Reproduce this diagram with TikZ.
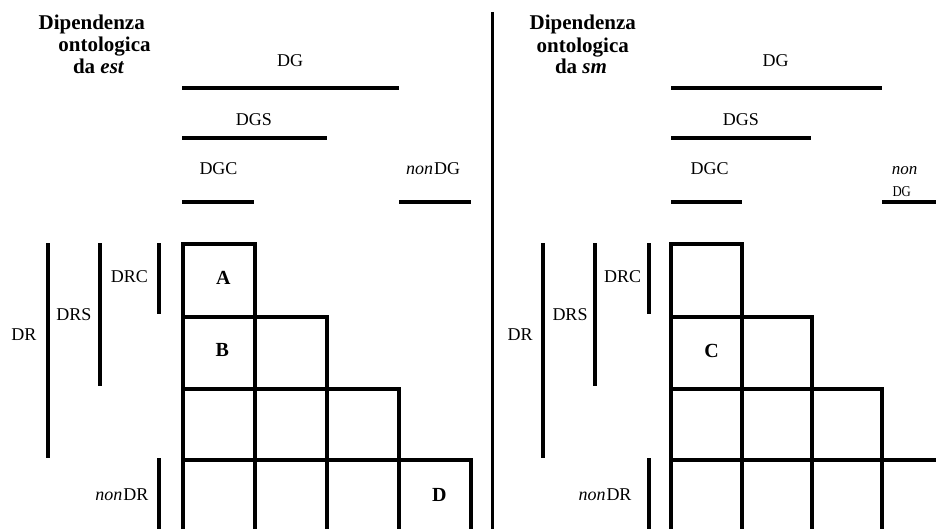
\documentclass[tikz,border=0pt]{standalone}
\usepackage{fontspec}
\setmainfont{Liberation Serif}
\tikzset{
  bar/.style={line width=4pt, line join=miter},
  sep/.style={line width=3.5pt},
  lbl/.style={inner sep=0pt, anchor=base, font=\fontsize{18}{20}\selectfont},
  ttl/.style={inner sep=0pt, anchor=base, font=\fontsize{21}{23}\selectfont\bfseries},
  cell/.style={inner sep=0pt, anchor=base, font=\fontsize{20}{22}\selectfont\bfseries},
}
\begin{document}
\begin{tikzpicture}[x=1pt,y=-1pt]
\useasboundingbox (0,0) rectangle (936,529);

% ---------- left panel: dependence on est ----------
\node[ttl] (tl1) at (91.7,29.3) {Dipendenza};
\node[ttl] (tl2) at (104.5,52) {ontologica};
\node[ttl] (tl3) at (98.7,74) {da \textit{est}};

\node[lbl] (ldg)  at (290,66.7) {DG};
\node[lbl] (ldgs) at (254,125.5) {DGS};
\node[lbl] (ldgc) at (218.5,174.5) {DGC};
\node[lbl] (lndg) at (433,174.5) {\textit{non}\kern1pt DG};
\draw[bar] (182,87.7) -- (399,87.7);
\draw[bar] (182,137.7) -- (327,137.7);
\draw[bar] (182,201.7) -- (254,201.7);
\draw[bar] (399,201.7) -- (471,201.7);

\node[lbl] (ldr)  at (24,340) {DR};
\node[lbl] (ldrs) at (74,320.7) {DRS};
\node[lbl] (ldrc) at (129.5,282.3) {DRC};
\node[lbl, anchor=base east] (lndr) at (148.5,500.7) {\textit{non}\kern1pt DR};
\draw[bar] (47.7,243.3) -- (47.7,457.7);
\draw[bar] (99.7,243.3) -- (99.7,386);
\draw[bar] (159,243.3) -- (159,314.3);
\draw[bar] (159,458.3) -- (159,529);

% staircase grid
\draw[bar] (183,529) -- (183,244.5) -- (254.5,244.5) -- (254.5,317) -- (326.5,317)
  -- (326.5,388.5) -- (399,388.5) -- (399,460) -- (470.5,460) -- (470.5,529);
\draw[bar] (183,317) -- (254.5,317);
\draw[bar] (183,388.5) -- (326.5,388.5);
\draw[bar] (183,460) -- (399,460);
\draw[bar] (254.5,317) -- (254.5,529);
\draw[bar] (326.5,388.5) -- (326.5,529);
\draw[bar] (399,460) -- (399,529);

\node[cell] (ca) at (223.3,284) {A};
\node[cell] (cb) at (222.3,356) {B};
\node[cell] (cd) at (439.3,501.7) {D};

% ---------- separator ----------
\draw[sep] (492.3,12) -- (492.3,529);

% ---------- right panel: dependence on sm ----------
\node[ttl] (tr1) at (582.8,29.3) {Dipendenza};
\node[ttl] (tr2) at (582.8,52.3) {ontologica};
\node[ttl] (tr3) at (581,74) {da \textit{sm}};

\node[lbl] (rdg)  at (775.5,66.7) {DG};
\node[lbl] (rdgs) at (740.8,126) {DGS};
\node[lbl] (rdgc) at (709.7,175) {DGC};
\node[inner sep=0pt, anchor=base west, font=\fontsize{17}{19}\selectfont\itshape] (rnon) at (891.7,175) {non};
\node[inner sep=0pt, anchor=base west, font=\fontsize{15}{17}\selectfont] (rndg) at (892.3,196.7) {\scalebox{0.85}[1]{DG}};
\draw[bar] (671,87.7) -- (881.7,87.7);
\draw[bar] (671,137.7) -- (811,137.7);
\draw[bar] (671,201.7) -- (741.7,201.7);
\draw[bar] (882.3,201.7) -- (940,201.7);

\node[lbl] (rdr)  at (520,340) {DR};
\node[lbl] (rdrs) at (570,320.7) {DRS};
\node[lbl] (rdrc) at (622.5,282.3) {DRC};
\node[lbl, anchor=base east] (rndr) at (631.7,500.7) {\textit{non}\kern1pt DR};
\draw[bar] (543.3,243.3) -- (543.3,457.7);
\draw[bar] (595,243.3) -- (595,386);
\draw[bar] (649,243.3) -- (649,314.3);
\draw[bar] (649,458.3) -- (649,529);

% staircase grid, last row running off to the right
\draw[bar] (671,529) -- (671,244.5) -- (741.7,244.5) -- (741.7,317) -- (811.5,317)
  -- (811.5,388.5) -- (882.3,388.5) -- (882.3,460) -- (940,460);
\draw[bar] (671,317) -- (741.7,317);
\draw[bar] (671,388.5) -- (811.5,388.5);
\draw[bar] (671,460) -- (882.3,460);
\draw[bar] (741.7,317) -- (741.7,529);
\draw[bar] (811.5,388.5) -- (811.5,529);
\draw[bar] (882.3,460) -- (882.3,529);

\node[cell] (cc) at (711.7,357.7) {C};
\end{tikzpicture}
\end{document}
